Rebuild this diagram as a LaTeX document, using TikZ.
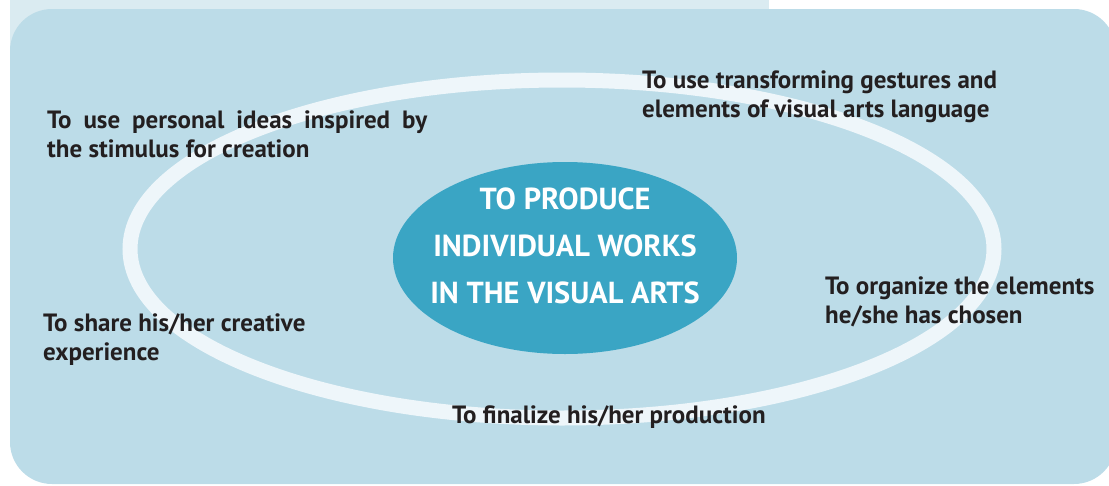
\documentclass[tikz,border=0pt]{standalone}
\usepackage{fontspec}
\setmainfont{PT Sans}
\usetikzlibrary{shapes.geometric}
\definecolor{mainc}{HTML}{BCDCE8}
\definecolor{tabc}{HTML}{DAEBF1}
\definecolor{ringc}{HTML}{EEF6FA}
\definecolor{ellc}{HTML}{3AA5C4}
\definecolor{txtc}{HTML}{231F20}
\begin{document}
\begin{tikzpicture}[x=1pt,y=-1pt,
  lbl/.style={anchor=base west, inner sep=0pt, text=txtc, align=left,
    font=\fontsize{25}{29}\selectfont\bfseries},
  core/.style={ellipse, fill=ellc, inner sep=0pt, minimum width=344pt, minimum height=192pt},
  coretxt/.style={anchor=base, inner sep=0pt, text=white, align=center,
    font=\fontsize{30.4}{47}\selectfont\bfseries}]
\useasboundingbox (0,0) rectangle (1109,485);
\fill[tabc] (10,0) rectangle (769,60);
\fill[mainc, rounded corners=42pt] (10,9) rectangle (1116,484);
\draw[ringc, line width=15pt] (562,249) ellipse [x radius=432pt, y radius=169pt];
\node[core] (c) at (565,258) {};
\node[coretxt] (ct) at (c.center |- 0,303) {TO PRODUCE\\INDIVIDUAL WORKS\\IN THE VISUAL ARTS};
\node[lbl] (a) at (47,157) {\makebox[380pt][s]{To use personal ideas inspired by}\\the stimulus for creation};
\node[lbl] (b) at (642,117) {To use transforming gestures and\\elements of visual arts language};
\node[lbl] (o) at (825,323) {To organize the elements\\he/she has chosen};
\node[lbl] (s) at (43,360) {To share his/her creative\\experience};
\node[lbl] (f) at (452,423) {To finalize his/her production};
\end{tikzpicture}
\end{document}
